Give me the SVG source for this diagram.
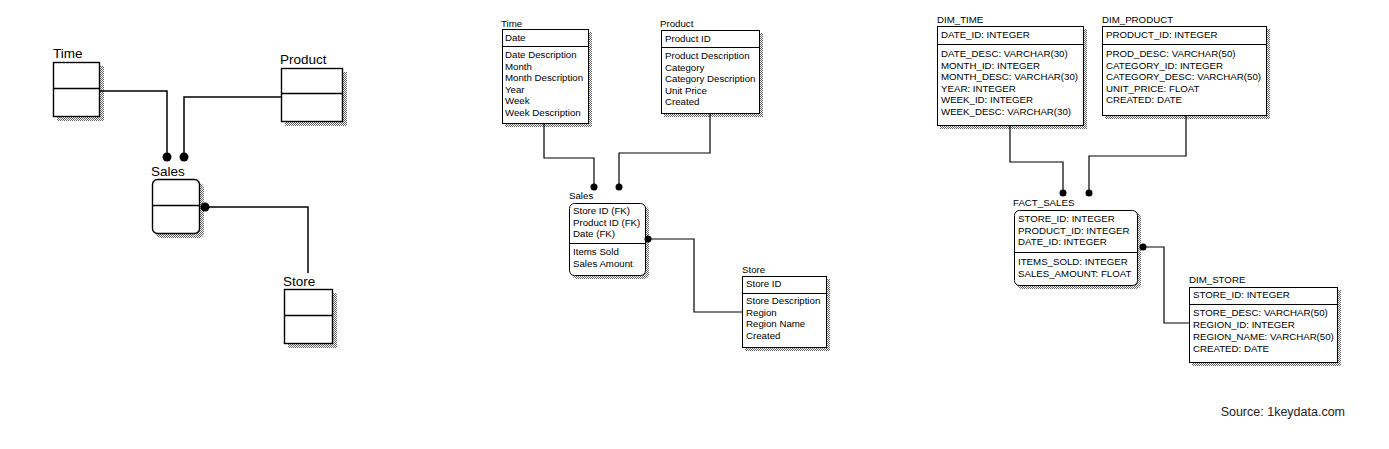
<svg xmlns="http://www.w3.org/2000/svg" width="1389" height="449" viewBox="0 0 1389 449">
<defs>
<pattern id="dither" width="2" height="2" patternUnits="userSpaceOnUse">
<rect width="2" height="2" fill="#fff"/>
<rect width="1" height="1" fill="#666"/>
<rect x="1" y="1" width="1" height="1" fill="#666"/>
</pattern>
</defs>
<style>
.box{fill:#fff;stroke:#000;stroke-width:1}
.bigbox{fill:#fff;stroke:#000;stroke-width:1.4}
.sh{fill:url(#dither)}
.div{stroke:#000;stroke-width:1}
.bigdiv{stroke:#000;stroke-width:1.4}
.t{font-family:"Liberation Sans",Arial,sans-serif;font-size:9.7px;fill:#000}
.big{font-family:"Liberation Sans",Arial,sans-serif;font-size:13.5px;fill:#000}
.src{font-family:"Liberation Sans",Arial,sans-serif;font-size:12.5px;fill:#222}
.ln{fill:none;stroke:#000;stroke-width:1.2}
.bigln{fill:none;stroke:#000;stroke-width:1.5}
.dot{fill:#000}
</style>
<rect width="1389" height="449" fill="#fff"/>

<!-- Left diagram -->
<g id="l-time">
<rect class="sh" x="57" y="66" width="47" height="55"/>
<rect class="bigbox" x="53.5" y="62.5" width="46" height="54"/>
<line class="bigdiv" x1="53.5" y1="88.5" x2="99.5" y2="88.5"/>
<text class="big" x="53" y="58">Time</text>
</g>
<g id="l-product">
<rect class="sh" x="285" y="72" width="62" height="54"/>
<rect class="bigbox" x="281.5" y="68.5" width="61" height="53"/>
<line class="bigdiv" x1="281.5" y1="93.5" x2="342.5" y2="93.5"/>
<text class="big" x="280" y="64">Product</text>
</g>
<g id="l-sales">
<rect class="sh" x="156" y="183" width="48" height="55" rx="5"/>
<rect class="bigbox" x="152.5" y="179.5" width="47" height="54" rx="5"/>
<line class="bigdiv" x1="152.5" y1="205.5" x2="199.5" y2="205.5"/>
<text class="big" x="151" y="176">Sales</text>
</g>
<g id="l-store">
<rect class="sh" x="288" y="293" width="49" height="55"/>
<rect class="bigbox" x="284.5" y="289.5" width="48" height="54"/>
<line class="bigdiv" x1="284.5" y1="315.5" x2="332.5" y2="315.5"/>
<text class="big" x="283" y="286">Store</text>
</g>

<!-- Middle diagram -->
<g id="m-time">
<rect class="sh" x="505" y="32" width="87" height="95"/>
<rect class="box" x="502.5" y="29.5" width="86" height="94"/>
<line class="div" x1="502.5" y1="46.5" x2="588.5" y2="46.5"/>
<text class="t" x="501" y="27">Time</text>
<text class="t" x="505" y="41">Date</text>
<text class="t" x="505" y="58">Date Description</text>
<text class="t" x="505" y="69.5">Month</text>
<text class="t" x="505" y="81">Month Description</text>
<text class="t" x="505" y="92.5">Year</text>
<text class="t" x="505" y="104">Week</text>
<text class="t" x="505" y="115.5">Week Description</text>
</g>
<g id="m-product">
<rect class="sh" x="664" y="33" width="99" height="84"/>
<rect class="box" x="661.5" y="30.5" width="98" height="83"/>
<line class="div" x1="661.5" y1="47.5" x2="759.5" y2="47.5"/>
<text class="t" x="660" y="27">Product</text>
<text class="t" x="665" y="42">Product ID</text>
<text class="t" x="665" y="59">Product Description</text>
<text class="t" x="665" y="70.5">Category</text>
<text class="t" x="665" y="82">Category Description</text>
<text class="t" x="665" y="93.5">Unit Price</text>
<text class="t" x="665" y="105">Created</text>
</g>
<g id="m-sales">
<rect class="sh" x="572" y="206" width="77" height="73" rx="5"/>
<rect class="box" x="569.5" y="203.5" width="76" height="72" rx="5"/>
<line class="div" x1="569.5" y1="243.5" x2="645.5" y2="243.5"/>
<text class="t" x="569" y="199">Sales</text>
<text class="t" x="573" y="214">Store ID (FK)</text>
<text class="t" x="573" y="225.5">Product ID (FK)</text>
<text class="t" x="573" y="237">Date (FK)</text>
<text class="t" x="573" y="255">Items Sold</text>
<text class="t" x="573" y="267">Sales Amount</text>
</g>
<g id="m-store">
<rect class="sh" x="745" y="279" width="85" height="72"/>
<rect class="box" x="742.5" y="276.5" width="84" height="71"/>
<line class="div" x1="742.5" y1="293.5" x2="826.5" y2="293.5"/>
<text class="t" x="742" y="273">Store</text>
<text class="t" x="746" y="287">Store ID</text>
<text class="t" x="746" y="304">Store Description</text>
<text class="t" x="746" y="315.5">Region</text>
<text class="t" x="746" y="327">Region Name</text>
<text class="t" x="746" y="338.5">Created</text>
</g>

<!-- Right diagram -->
<g id="r-dim-time">
<rect class="sh" x="940" y="29" width="147" height="100"/>
<rect class="box" x="937.5" y="26.5" width="146" height="99"/>
<line class="div" x1="937.5" y1="44.5" x2="1083.5" y2="44.5"/>
<text class="t" x="937" y="23">DIM_TIME</text>
<text class="t" x="941" y="38">DATE_ID: INTEGER</text>
<text class="t" x="941" y="57">DATE_DESC: VARCHAR(30)</text>
<text class="t" x="941" y="68.5">MONTH_ID: INTEGER</text>
<text class="t" x="941" y="80">MONTH_DESC: VARCHAR(30)</text>
<text class="t" x="941" y="91.5">YEAR: INTEGER</text>
<text class="t" x="941" y="103">WEEK_ID: INTEGER</text>
<text class="t" x="941" y="114.5">WEEK_DESC: VARCHAR(30)</text>
</g>
<g id="r-dim-product">
<rect class="sh" x="1105" y="29" width="165" height="90"/>
<rect class="box" x="1102.5" y="26.5" width="164" height="89"/>
<line class="div" x1="1102.5" y1="44.5" x2="1266.5" y2="44.5"/>
<text class="t" x="1102" y="23">DIM_PRODUCT</text>
<text class="t" x="1106" y="38">PRODUCT_ID: INTEGER</text>
<text class="t" x="1106" y="57">PROD_DESC: VARCHAR(50)</text>
<text class="t" x="1106" y="68.5">CATEGORY_ID: INTEGER</text>
<text class="t" x="1106" y="80">CATEGORY_DESC: VARCHAR(50)</text>
<text class="t" x="1106" y="91.5">UNIT_PRICE: FLOAT</text>
<text class="t" x="1106" y="103">CREATED: DATE</text>
</g>
<g id="r-fact-sales">
<rect class="sh" x="1017" y="213" width="124" height="76" rx="5"/>
<rect class="box" x="1014.5" y="210.5" width="123" height="75" rx="5"/>
<line class="div" x1="1014.5" y1="252.5" x2="1137.5" y2="252.5"/>
<text class="t" x="1013" y="206">FACT_SALES</text>
<text class="t" x="1018" y="222">STORE_ID: INTEGER</text>
<text class="t" x="1018" y="233.5">PRODUCT_ID: INTEGER</text>
<text class="t" x="1018" y="245">DATE_ID: INTEGER</text>
<text class="t" x="1018" y="265">ITEMS_SOLD: INTEGER</text>
<text class="t" x="1018" y="277">SALES_AMOUNT: FLOAT</text>
</g>
<g id="r-dim-store">
<rect class="sh" x="1192" y="290" width="149" height="76"/>
<rect class="box" x="1189.5" y="287.5" width="148" height="75"/>
<line class="div" x1="1189.5" y1="304.5" x2="1337.5" y2="304.5"/>
<text class="t" x="1189" y="283">DIM_STORE</text>
<text class="t" x="1193" y="298">STORE_ID: INTEGER</text>
<text class="t" x="1193" y="316">STORE_DESC: VARCHAR(50)</text>
<text class="t" x="1193" y="328">REGION_ID: INTEGER</text>
<text class="t" x="1193" y="340">REGION_NAME: VARCHAR(50)</text>
<text class="t" x="1193" y="352">CREATED: DATE</text>
</g>

<g id="connectors">
<path class="bigln" d="M99.5,91 H167 V157"/>
<path class="bigln" d="M281.5,97 H184 V157"/>
<path class="bigln" d="M205,207 H308 V273"/>
<circle class="dot" cx="167" cy="157" r="4.5"/>
<circle class="dot" cx="184" cy="157" r="4.5"/>
<circle class="dot" cx="205" cy="207" r="4.5"/>

<path class="ln" d="M544,123.5 V158 H594 V187"/>
<path class="ln" d="M710,113.5 V153 H619 V187"/>
<path class="ln" d="M648,239 H694 V312 H742.5"/>
<circle class="dot" cx="594" cy="187" r="3.5"/>
<circle class="dot" cx="619" cy="187" r="3.5"/>
<circle class="dot" cx="648" cy="239" r="3.5"/>

<path class="ln" d="M1010,125.5 V162 H1063 V193"/>
<path class="ln" d="M1186,115.5 V156 H1089 V193"/>
<path class="ln" d="M1143,247 H1164 V323 H1189.5"/>
<circle class="dot" cx="1063" cy="193" r="3.5"/>
<circle class="dot" cx="1089" cy="193" r="3.5"/>
<circle class="dot" cx="1143" cy="247" r="3.5"/>
</g>

<text class="src" x="1345" y="416" text-anchor="end">Source: 1keydata.com</text>
</svg>
